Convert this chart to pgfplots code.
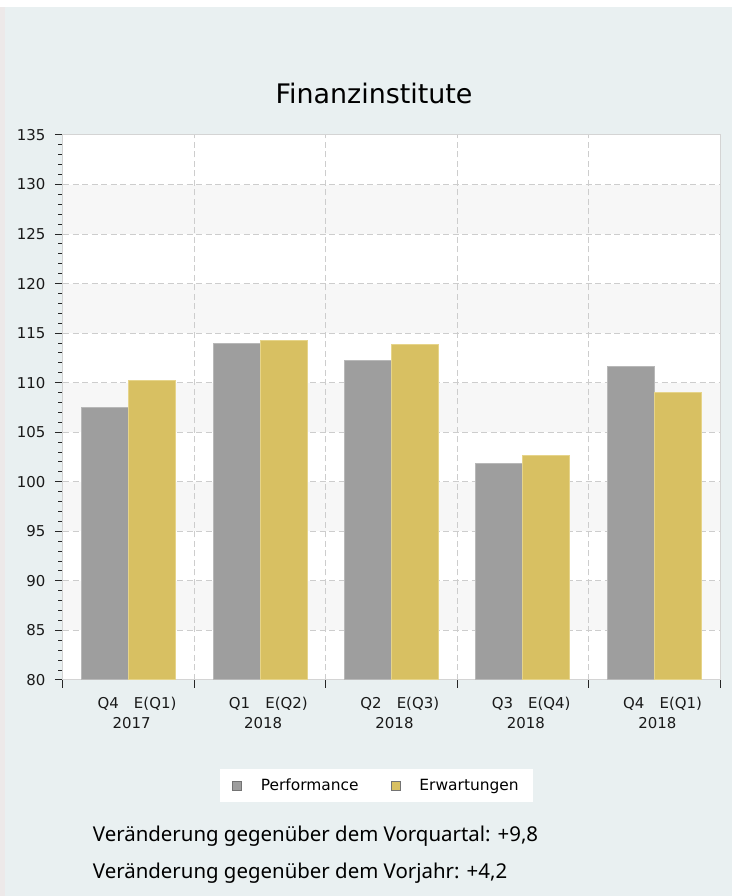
\documentclass[border=0pt]{standalone}
\usepackage{fontspec}
\setmainfont{DejaVu Sans}
\newfontfamily\notosans{Noto Sans}
\usepackage{pgfplots}
\pgfplotsset{compat=1.18}
\definecolor{bgc}{HTML}{E9F0F1}
\definecolor{leftc}{HTML}{EDE9E9}
\definecolor{band}{HTML}{F7F7F7}
\definecolor{perf}{HTML}{9E9E9E}
\definecolor{perfb}{HTML}{B8B8B8}
\definecolor{erw}{HTML}{D8C062}
\definecolor{erwb}{HTML}{E6D48A}
\definecolor{gridc}{HTML}{CDCDCD}
\definecolor{framec}{HTML}{D4D4D4}
\pgfplotsset{sq legend/.style={legend image code/.code={\draw[##1, draw=black!55, line width=0.8bp] (0bp,-4.5bp) rectangle (9bp,4.5bp);}}}
\begin{document}
\begin{tikzpicture}
\useasboundingbox (0bp,0bp) rectangle (732bp,896bp);
\fill[bgc] (0bp,0bp) rectangle (732bp,896bp);
\fill[white] (0bp,889bp) rectangle (732bp,896bp);
\fill[leftc] (0bp,0bp) rectangle (5bp,889bp);
\coordinate (SW) at (63bp,216bp);
% background bands
\begin{axis}[at={(SW)}, anchor=south west, scale only axis,
  width=657bp, height=545bp, xmin=-0.5, xmax=4.5, ymin=80, ymax=135, hide axis]
\fill[white] (axis cs:-0.5,80) rectangle (axis cs:4.5,135);
\fill[band] (axis cs:-0.5,85) rectangle (axis cs:4.5,90);
\fill[band] (axis cs:-0.5,95) rectangle (axis cs:4.5,100);
\fill[band] (axis cs:-0.5,105) rectangle (axis cs:4.5,110);
\fill[band] (axis cs:-0.5,115) rectangle (axis cs:4.5,120);
\fill[band] (axis cs:-0.5,125) rectangle (axis cs:4.5,130);
\end{axis}
% main axis
\begin{axis}[at={(SW)}, anchor=south west, scale only axis,
  width=657bp, height=545bp,
  xmin=-0.5, xmax=4.5, ymin=80, ymax=135,
  ybar=0pt, bar width=47bp,
  axis line style={framec, line width=1bp},
  tick pos=left, tick align=outside,
  ytick={80,85,...,135}, minor y tick num=4,
  major tick length=8bp, minor tick length=4.5bp,
  every tick/.style={black!85, line width=1bp},
  ymajorgrids, xmajorgrids,
  major grid style={gridc, line width=1bp, dash pattern=on 6bp off 3.5bp},
  xtick={-0.5,0.5,1.5,2.5,3.5,4.5}, xticklabels={},
  extra x ticks={0,1,2,3,4},
  extra x tick style={major tick length=0pt, grid=none},
  extra x tick labels={
    {\makebox[0pt]{Q4}\hspace{47bp}\makebox[0pt]{E(Q1)}\\2017},
    {\makebox[0pt]{Q1}\hspace{47bp}\makebox[0pt]{E(Q2)}\\2018},
    {\makebox[0pt]{Q2}\hspace{47bp}\makebox[0pt]{E(Q3)}\\2018},
    {\makebox[0pt]{Q3}\hspace{47bp}\makebox[0pt]{E(Q4)}\\2018},
    {\makebox[0pt]{Q4}\hspace{47bp}\makebox[0pt]{E(Q1)}\\2018}},
  /pgf/number format/assume math mode=true,
  tick label style={font=\fontsize{15}{19.5}\selectfont, black!90},
  xticklabel style={align=center, xshift=3bp, yshift=-14bp},
  yticklabel style={xshift=-6bp},
  title={Finanzinstitute},
  title style={at={(0.4734,1)}, anchor=base, yshift=26bp, font=\fontsize{27}{31}\selectfont},
  legend style={at={(0.477,-0.1936)}, anchor=center, draw=none, fill=white,
    legend columns=2, font=\fontsize{15.5}{18}\selectfont,
    inner xsep=12bp, inner ysep=8bp,
    /tikz/every odd column/.append style={column sep=17bp},
    /tikz/every even column/.append style={column sep=30bp},
    cells={anchor=west, inner sep=0pt}},
]
\addplot[fill=perf, draw=perfb, line width=1bp, sq legend] coordinates {(0,107.5) (1,114.0) (2,112.2) (3,101.8) (4,111.6)};
\addplot[fill=erw, draw=erwb, line width=1bp, sq legend] coordinates {(0,110.2) (1,114.3) (2,113.9) (3,102.7) (4,109.0)};
\legend{Performance, Erwartungen}
\end{axis}
\node[anchor=base west, inner sep=0pt, font=\notosans\fontsize{20.5}{24}\selectfont] at (92.7bp,54bp) {Veränderung gegenüber dem Vorquartal: +9,8};
\node[anchor=base west, inner sep=0pt, font=\notosans\fontsize{20.5}{24}\selectfont] at (92.7bp,18bp) {Veränderung gegenüber dem Vorjahr: +4,2};
\end{tikzpicture}
\end{document}
